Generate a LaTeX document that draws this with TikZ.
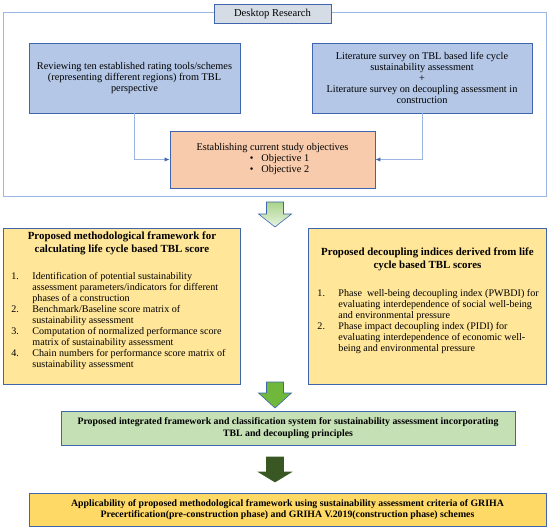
\documentclass[tikz,border=0pt]{standalone}
\usepackage{fontspec}
\setmainfont{Liberation Serif}
\usetikzlibrary{arrows.meta}
\definecolor{framecol}{HTML}{9DB5E2}
\definecolor{boxline}{HTML}{3F65AE}
\definecolor{deskfill}{HTML}{D6DCE5}
\definecolor{bluefill}{HTML}{B4C7E7}
\definecolor{objfill}{HTML}{F8CBAD}
\definecolor{yelfill}{HTML}{FFE699}
\definecolor{grnfill}{HTML}{C5E0B4}
\definecolor{orgfill}{HTML}{FFD966}
\definecolor{arrgreen}{HTML}{70B83C}
\definecolor{arrdark}{HTML}{385723}
\tikzset{
  box/.style={draw=boxline, line width=0.9pt, align=center, inner sep=0pt,
    font=\fontsize{10.3}{11}\selectfont},
  ybox/.style={draw=boxline, line width=0.9pt, fill=yelfill, inner ysep=3pt,
    font=\fontsize{10.1}{11}\selectfont},
  conn/.style={draw=framecol, line width=1pt, -{Latex[length=5pt,width=4.5pt,color=boxline]}},
  barrow/.style={draw=boxline, line width=0.6pt}
}
% block arrow: top of shaft, start of head, tip
\newcommand{\blockarrow}[4]{%
  \path[barrow,#4] (266.5,#1) -- (283.5,#1) -- (283.5,#2) -- (291.5,#2)
    -- (275,#3) -- (258.5,#2) -- (266.5,#2) -- cycle;}
\begin{document}
\begin{tikzpicture}[x=1pt,y=-1pt]
  \useasboundingbox (0,0) rectangle (550,527);
  % desktop research frame
  \draw[framecol, line width=1pt] (3,13) rectangle (546,197);
  \node[box, fill=deskfill, minimum width=117pt, minimum height=19pt, font=\fontsize{10.6}{11}\selectfont]
    (desk) at (272.5,13.5) {Desktop Research};
  \node[box, fill=bluefill, minimum width=211pt, minimum height=70pt] (tools) at (134.5,78)
    {Reviewing ten established rating tools/schemes\\
     (representing different regions) from TBL\\ perspective};
  \node[box, fill=bluefill, minimum width=220pt, minimum height=70pt] (survey) at (422,78)
    {Literature survey on TBL based life cycle\\ sustainability assessment\\ +\\
     Literature survey on decoupling assessment in\\ construction};
  \node[box, fill=objfill, minimum width=205pt, minimum height=57pt] (obj) at (272.5,159.5)
    {Establishing current study objectives\\
     \hspace*{14pt}\textbullet\hspace{8pt}Objective 1\\
     \hspace*{14pt}\textbullet\hspace{8pt}Objective 2};
  \draw[conn] (tools.south) |- (obj.west);
  \draw[conn] (survey.south) |- (obj.east);
  % first arrow
  \blockarrow{202}{214}{227}{top color=arrgreen!60, bottom color=grnfill!40}
  % proposed frameworks
  \node[ybox, inner xsep=8pt, anchor=north west] (calc) at (3,228)
    {\begin{minipage}[t][150pt][t]{221pt}
     {\centering\fontsize{10.9}{13.5}\bfseries Proposed methodological framework for\\
      calculating life cycle based TBL score\par}
     \vspace{16pt}\noindent
     \begin{tabular}{@{}p{21pt}@{}l@{}}
     1. & Identification of potential sustainability\\
        & assessment parameters/indicators for different\\
        & phases of a construction\\
     2. & Benchmark/Baseline score matrix of\\
        & sustainability assessment\\
     3. & Computation of normalized performance score\\
        & matrix of sustainability assessment\\
     4. & Chain numbers for performance score matrix of\\
        & sustainability assessment
     \end{tabular}
     \end{minipage}};
  \node[ybox, inner xsep=9pt, anchor=north west] (index) at (308,228)
    {\begin{minipage}[t][150pt][t]{220pt}
     \vspace*{16pt}
     {\centering\fontsize{10.9}{13.5}\bfseries Proposed decoupling indices derived from life\\
      cycle based TBL scores\par}
     \vspace{17pt}\noindent
     \begin{tabular}{@{}p{21pt}@{}l@{}}
     1. & Phase\ \ well-being decoupling index (PWBDI) for\\
        & evaluating interdependence of social well-being\\
        & and environmental pressure\\
     2. & Phase impact decoupling index (PIDI) for\\
        & evaluating interdependence of economic well-\\
        & being and environmental pressure
     \end{tabular}
     \end{minipage}};
  \blockarrow{382}{393}{408}{fill=arrgreen}
  \node[box, fill=grnfill, minimum width=454pt, minimum height=34pt,
    font=\fontsize{9.8}{12}\selectfont\bfseries] (integ) at (288,428)
    {Proposed integrated framework and classification system for sustainability assessment incorporating\\
     TBL and decoupling principles};
  \blockarrow{457}{472}{482}{fill=arrdark, draw=arrdark}
  \node[box, fill=orgfill, minimum width=517pt, minimum height=33pt,
    font=\fontsize{9.8}{11.5}\selectfont\bfseries] (griha) at (287.5,509.5)
    {Applicability of proposed methodological framework using sustainability assessment criteria of GRIHA\\
     Precertification(pre-construction phase) and GRIHA V.2019(construction phase) schemes};
\end{tikzpicture}
\end{document}
